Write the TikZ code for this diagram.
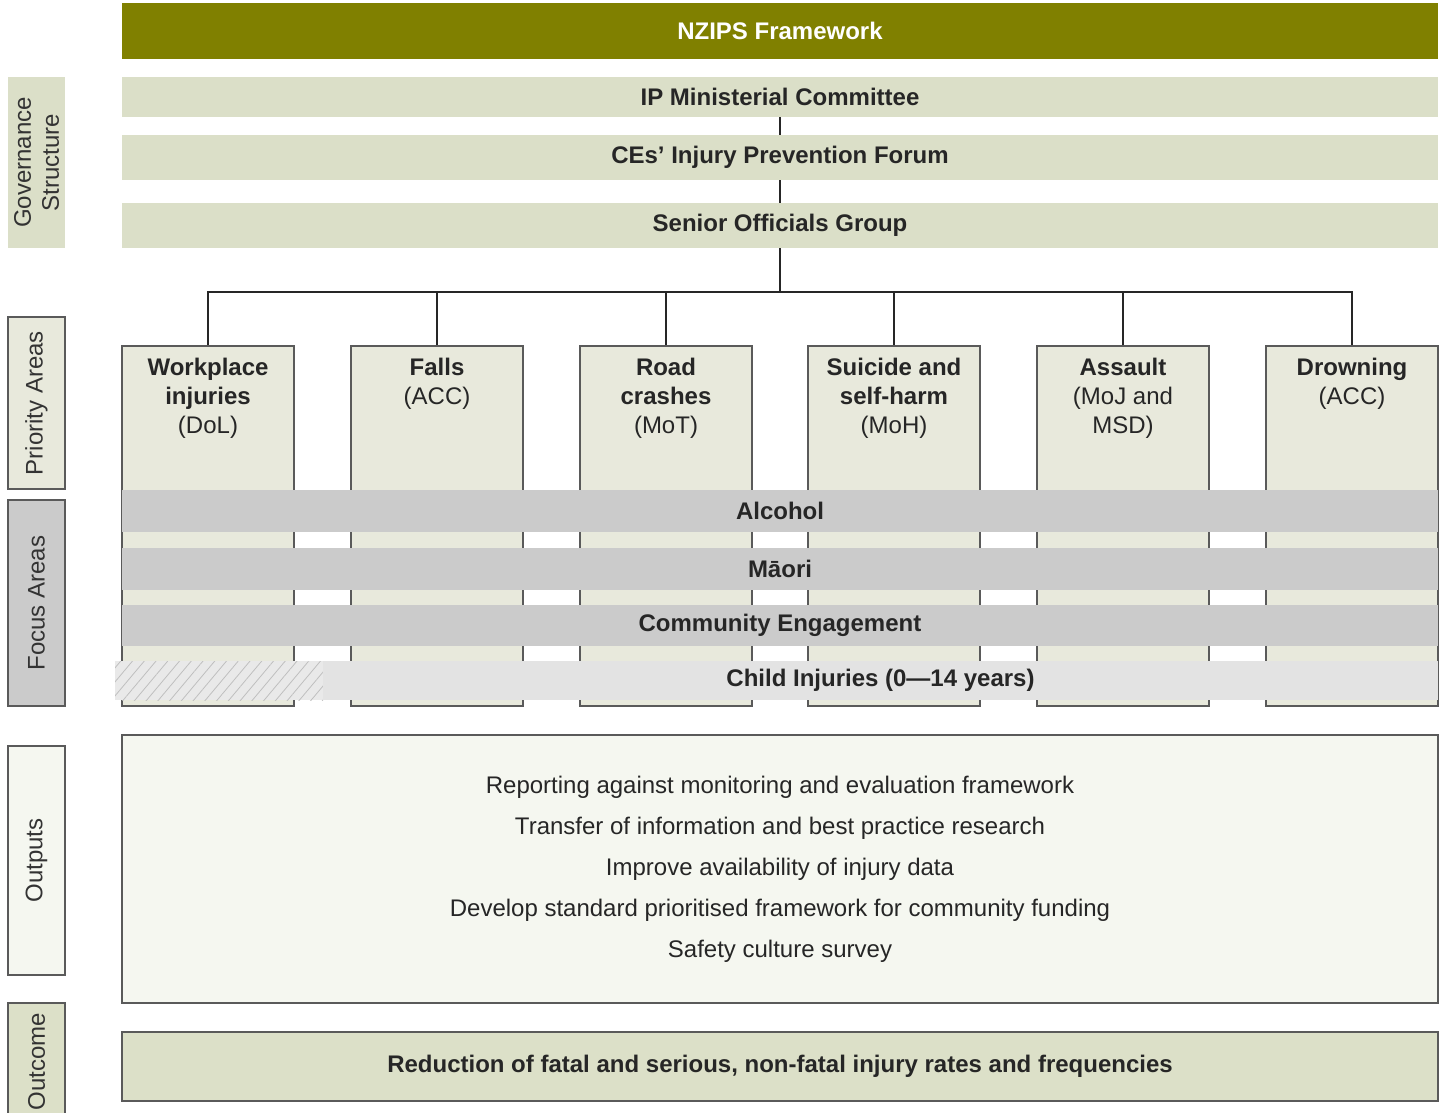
\documentclass[tikz,border=0pt]{standalone}
\usepackage{fontspec}
\setmainfont{Liberation Sans}
\usetikzlibrary{patterns.meta}

\definecolor{olivebar}{HTML}{808000}
\definecolor{govfill}{HTML}{DBDFC8}
\definecolor{priofill}{HTML}{E8E9DC}
\definecolor{focusfill}{HTML}{CBCBCB}
\definecolor{childfill}{HTML}{E3E3E3}
\definecolor{outfill}{HTML}{F5F7F0}
\definecolor{outcomefill}{HTML}{DCE0C8}
\definecolor{edgegray}{HTML}{5A5A5A}

\tikzset{
	bar/.style={minimum width=658pt, inner sep=0pt, font=\fontsize{12}{14.5}\selectfont\bfseries, text=black!85},
	prio/.style={draw=edgegray, line width=0.6pt, fill=priofill, minimum width=86pt, minimum height=180pt, inner sep=0pt},
	prioText/.style={anchor=north, align=center, yshift=-3pt, font=\fontsize{12}{14.5}\selectfont, text=black!85},
	side/.style={rotate=90, minimum height=28.5pt, inner sep=0pt, align=center, font=\fontsize{12}{14}\selectfont, text=black!80},
	link/.style={line width=0.8pt, black!85}
}

\begin{document}
\begin{tikzpicture}[x=0.5pt, y=-0.5pt]
		\useasboundingbox (0,0) rectangle (1448,1113);
		% governance bars
		\node[bar, fill=olivebar, text=white, minimum height=28pt] (nzips) at (780,31) {NZIPS Framework};
		\node[bar, fill=govfill, minimum height=20pt] (ipmc) at (780,97) {IP Ministerial Committee};
		\node[bar, fill=govfill, minimum height=22.5pt] (ceipf) at (780,157.5) {CEs’ Injury Prevention Forum};
		\node[bar, fill=govfill, minimum height=22.5pt] (sog) at (780,225.5) {Senior Officials Group};
		\draw[link] (ipmc) -- (ceipf);
		\draw[link] (ceipf) -- (sog);

		% priority areas
		\node[prio, label={[prioText]north:{\textbf{Workplace}\\\textbf{injuries}\\(DoL)}}] (pwork) at (208,526) {};
		\node[prio, label={[prioText]north:{\textbf{Falls}\\(ACC)}}] (pfall) at (437,526) {};
		\node[prio, label={[prioText]north:{\textbf{Road}\\\textbf{crashes}\\(MoT)}}] (proad) at (666,526) {};
		\node[prio, label={[prioText]north:{\textbf{Suicide and}\\\textbf{self-harm}\\(MoH)}}] (psuic) at (894,526) {};
		\node[prio, label={[prioText]north:{\textbf{Assault}\\(MoJ and\\MSD)}}] (passa) at (1123,526) {};
		\node[prio, label={[prioText]north:{\textbf{Drowning}\\(ACC)}}] (pdrown) at (1352,526) {};

		\coordinate (bus) at (780,292);
		\draw[link] (sog) -- (bus);
		\foreach \p in {pwork,pfall,proad,psuic,passa,pdrown}
			\draw[link] (bus) -| (\p.north);

		% focus areas
		\node[bar, fill=focusfill, minimum height=21pt] (alcohol) at (780,511) {Alcohol};
		\node[bar, fill=focusfill, minimum height=21pt] (maori) at (780,569) {Māori};
		\node[bar, fill=focusfill, minimum height=20.5pt] (community) at (780,625.5) {Community Engagement};
		\fill[childfill!80!white] (115,661) rectangle (323,700);
		\fill[pattern={Lines[angle=50, distance=4.5pt, line width=0.4pt]}, pattern color=gray!50] (115,661) rectangle (323,700);
		\node[bar, fill=childfill, minimum width=557.5pt, minimum height=19.5pt] (child) at (880.5,680.5) {Child Injuries (0—14 years)};

		% outputs and outcome
		\node[draw=edgegray, line width=0.6pt, fill=outfill, minimum width=658pt, minimum height=134pt, align=center, font=\fontsize{12}{20.5}\selectfont, text=black!85] (outputs) at (780,869)
			{Reporting against monitoring and evaluation framework\\Transfer of information and best practice research\\Improve availability of injury data\\Develop standard prioritised framework for community funding\\Safety culture survey};
		\node[bar, draw=edgegray, line width=0.6pt, fill=outcomefill, minimum height=34.5pt] (outcome) at (780,1066.5) {Reduction of fatal and serious, non-fatal injury rates and frequencies};

		% side labels
		\node[side, fill=govfill, minimum width=85.5pt] (lgov) at (36.5,162.5) {Governance\\Structure};
		\node[side, draw=edgegray, line width=0.6pt, fill=priofill, minimum width=86pt] (lprio) at (36.5,403) {Priority Areas};
		\node[side, draw=edgegray, line width=0.6pt, fill=focusfill, minimum width=103pt] (lfocus) at (36.5,603) {Focus Areas};
		\node[side, draw=edgegray, line width=0.6pt, fill=outfill, minimum width=114.5pt] (lout) at (36.5,860.5) {Outputs};
		\node[side, draw=edgegray, line width=0.6pt, fill=outcomefill, minimum width=58.5pt] (lcome) at (36.5,1061.5) {Outcome};
\end{tikzpicture}
\end{document}
